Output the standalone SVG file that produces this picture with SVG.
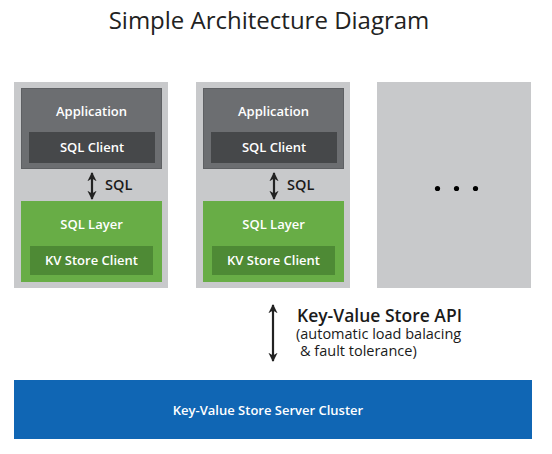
<svg xmlns="http://www.w3.org/2000/svg" width="552" height="454" viewBox="0 0 552 454">
<style>
text{font-family:"Open Sans","DejaVu Sans",sans-serif}
.outer{fill:#c8c9cb}
.app{fill:#6c6e71;stroke:#5e6063;stroke-width:1}
.client{fill:#46484a}
.layer{fill:#68ad46}
.kv{fill:#4e8a35}
.w{fill:#ffffff;font-size:13px;font-weight:600;text-anchor:middle}
.lbl{fill:#1a1a1a;font-size:14.5px;font-weight:600}
.arr{stroke:#222;stroke-width:2.2;fill:none;marker-start:url(#ah);marker-end:url(#ah)}
</style>
<defs>
<marker id="ah" viewBox="0 0 10 10" refX="9" refY="5" markerWidth="4.2" markerHeight="4.2" orient="auto-start-reverse" markerUnits="strokeWidth">
<path d="M0,0 L10,5 L0,10 L3,5 Z" fill="#222"/>
</marker>
</defs>
<rect width="552" height="454" fill="#ffffff"/>
<text x="269" y="29" font-size="24" fill="#222" text-anchor="middle">Simple Architecture Diagram</text>

<g id="column1">
<rect class="outer" x="14" y="82" width="154" height="206"/>
<g id="app1"><rect class="app" x="21.5" y="88.5" width="140" height="80"/><text class="w" x="91.5" y="116">Application</text></g>
<g id="sqlclient1"><rect class="client" x="29" y="132" width="126" height="31"/><text class="w" x="92" y="152">SQL Client</text></g>
<g id="sqllayer1"><rect class="layer" x="21" y="201" width="141" height="81"/><text class="w" x="91.5" y="229">SQL Layer</text></g>
<g id="kvclient1"><rect class="kv" x="30" y="246" width="123" height="29"/><text class="w" x="91.5" y="265">KV Store Client</text></g>
</g>

<g id="column2">
<rect class="outer" x="196" y="82" width="154" height="206"/>
<g id="app2"><rect class="app" x="203.5" y="88.5" width="140" height="80"/><text class="w" x="273.5" y="116">Application</text></g>
<g id="sqlclient2"><rect class="client" x="211" y="132" width="126" height="31"/><text class="w" x="274" y="152">SQL Client</text></g>
<g id="sqllayer2"><rect class="layer" x="203" y="201" width="141" height="81"/><text class="w" x="273.5" y="229">SQL Layer</text></g>
<g id="kvclient2"><rect class="kv" x="212" y="246" width="123" height="29"/><text class="w" x="273.5" y="265">KV Store Client</text></g>
</g>

<g id="column3">
<rect class="outer" x="377" y="82" width="154" height="206"/>
<circle cx="437.5" cy="188.5" r="2.6" fill="#000"/>
<circle cx="456.5" cy="188.5" r="2.6" fill="#000"/>
<circle cx="475.5" cy="188.5" r="2.6" fill="#000"/>
</g>

<g id="cluster">
<rect x="14" y="380" width="518" height="59" fill="#1066b4"/>
<text class="w" x="268" y="415">Key-Value Store Server Cluster</text>
</g>

<g id="connectors">
<line class="arr" x1="92" y1="173" x2="92" y2="199"/>
<text class="lbl" x="105" y="190">SQL</text>
<line class="arr" x1="274" y1="173" x2="274" y2="199"/>
<text class="lbl" x="287" y="190">SQL</text>
<line class="arr" x1="273" y1="305" x2="273" y2="361"/>
<text x="297" y="322" font-size="17.5" font-weight="600" fill="#1a1a1a">Key-Value Store API</text>
<text x="296" y="339" font-size="14.5" fill="#1a1a1a">(automatic load balacing</text>
<text x="300" y="356" font-size="14.5" fill="#1a1a1a">&amp; fault tolerance)</text>
</g>
</svg>
